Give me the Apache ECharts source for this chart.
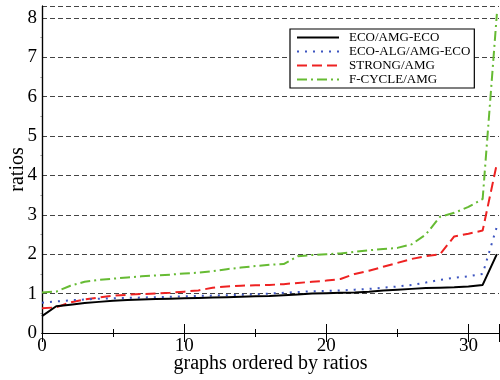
<!DOCTYPE html>
<html>
<head>
<meta charset="utf-8">
<script src="https://cdn.jsdelivr.net/npm/echarts@6/dist/echarts.min.js"></script>
<style>
  html, body { margin: 0; padding: 0; background: #fff; }
  #chart { width: 500px; height: 380px; }
</style>
</head>
<body>
<div id="chart"></div>
<script>
// graphs ordered by ratio, index 0..32
var ranks = Array.from({ length: 33 }, function (_, i) { return i })

var ecoAmgEco = [0.43, 0.68, 0.72, 0.76, 0.79, 0.82, 0.84, 0.85, 0.86, 0.87, 0.88,
  0.89, 0.9, 0.91, 0.92, 0.93, 0.94, 0.96, 0.98, 1.0, 1.01, 1.02, 1.03, 1.05, 1.08,
  1.1, 1.12, 1.14, 1.15, 1.16, 1.18, 1.22, 2.0]
var ecoAlgAmgEco = [0.77, 0.8, 0.83, 0.85, 0.87, 0.88, 0.89, 0.9, 0.91, 0.92, 0.93,
  0.94, 0.95, 0.96, 0.97, 0.98, 1.0, 1.02, 1.04, 1.06, 1.07, 1.08, 1.1, 1.12, 1.15,
  1.18, 1.22, 1.28, 1.35, 1.4, 1.44, 1.5, 2.7]
var strongAmg = [0.63, 0.65, 0.78, 0.85, 0.9, 0.95, 0.97, 0.99, 1.0, 1.02, 1.05,
  1.08, 1.15, 1.18, 1.2, 1.21, 1.22, 1.24, 1.27, 1.3, 1.33, 1.37, 1.5, 1.58, 1.68,
  1.78, 1.88, 1.95, 2.0, 2.45, 2.52, 2.6, 4.3]
var fcycleAmg = [1.03, 1.05, 1.2, 1.3, 1.35, 1.38, 1.41, 1.44, 1.46, 1.48, 1.51,
  1.53, 1.57, 1.62, 1.66, 1.7, 1.73, 1.75, 1.95, 1.98, 2.0, 2.02, 2.06, 2.1, 2.13,
  2.16, 2.25, 2.5, 2.95, 3.05, 3.2, 3.4, 8.1]

var names = ['ECO/AMG-ECO', 'ECO-ALG/AMG-ECO', 'STRONG/AMG', 'F-CYCLE/AMG']
var colors = ['#000000', '#3d55c0', '#ee2222', '#66bb33']
var dashes = ['solid', [2, 6], [10, 5], [10, 4, 2, 4]]
var values = [ecoAmgEco, ecoAlgAmgEco, strongAmg, fcycleAmg]

var font = 'Liberation Serif'

function pairs(ys) {
  return ranks.map(function (x, i) { return [x, ys[i]] })
}

var xBase = {
  type: 'value',
  min: 0,
  max: 32.15,
  interval: 10,
  axisLine: { show: true, lineStyle: { color: '#000', width: 1.2 } },
  axisTick: { show: true, inside: true, length: 9, lineStyle: { color: '#000' } },
  minorTick: { show: true, splitNumber: 2, length: 4, lineStyle: { color: '#000' } },
  splitLine: { show: false }
}

var option = {
  animation: false,
  grid: { left: 42, right: 1, top: 6, bottom: 47, outerBoundsMode: 'none', containLabel: false },
  legend: {
    orient: 'vertical',
    left: 290,
    top: 29,
    padding: [2, 4, 2, 6],
    itemWidth: 42,
    itemHeight: 14,
    itemGap: 1,
    backgroundColor: '#fff',
    borderColor: '#000',
    borderWidth: 1.2,
    itemStyle: { opacity: 0 },
    textStyle: { fontFamily: font, fontSize: 13, color: '#000', padding: [0, 0, 0, 5] },
    data: names
  },
  xAxis: [
    Object.assign({}, xBase, {
      position: 'bottom',
      name: 'graphs ordered by ratios',
      nameLocation: 'middle',
      nameGap: 21,
      nameMoveOverlap: false,
      nameTextStyle: { fontFamily: font, fontSize: 20, color: '#000' },
      axisLabel: { fontFamily: font, fontSize: 19, color: '#000', margin: 4, showMaxLabel: false }
    }),
    Object.assign({}, xBase, { position: 'top', axisLabel: { show: false } })
  ],
  yAxis: [
    {
      type: 'value',
      min: 0,
      max: 8.3,
      interval: 1,
      name: 'ratios',
      nameLocation: 'middle',
      nameGap: 14,
      nameMoveOverlap: false,
      nameTextStyle: { fontFamily: font, fontSize: 20, color: '#000' },
      axisLine: { show: true, lineStyle: { color: '#000', width: 1.2 } },
      axisTick: { show: false },
      minorTick: { show: true, splitNumber: 2, length: 1.5, lineStyle: { color: '#888' } },
      axisLabel: { fontFamily: font, fontSize: 19, color: '#000', margin: 5, showMaxLabel: false },
      splitLine: { show: true, lineStyle: { color: '#444', type: [5, 3], width: 1 } }
    },
    {
      type: 'value',
      position: 'right',
      min: 0,
      max: 8.3,
      interval: 1,
      axisLine: { show: true, lineStyle: { color: '#000', width: 1.2 } },
      axisTick: { show: false },
      axisLabel: { show: false },
      splitLine: { show: false }
    }
  ],
  series: names.map(function (name, k) {
    return {
      name: name,
      type: 'line',
      data: pairs(values[k]),
      symbol: 'none',
      showSymbol: false,
      color: colors[k],
      lineStyle: { color: colors[k], width: 2, type: dashes[k] },
      z: 10 - k
    }
  })
}

var chart = echarts.init(document.getElementById('chart'))
chart.setOption(option)
</script>
</body>
</html>
